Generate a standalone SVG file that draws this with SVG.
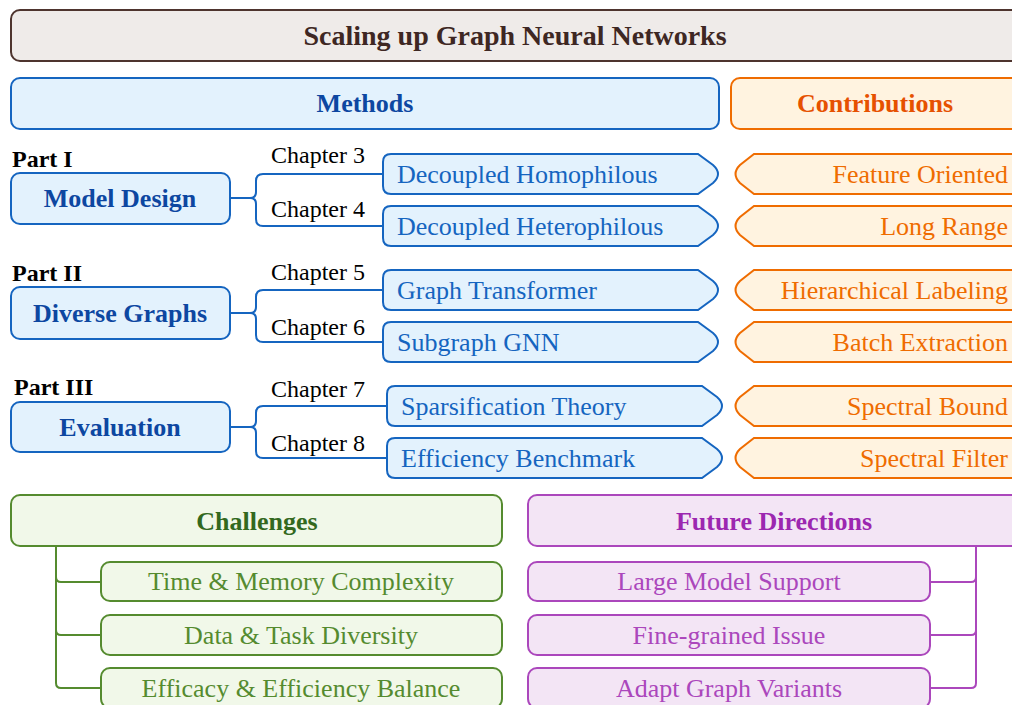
<svg xmlns="http://www.w3.org/2000/svg" width="1012" height="705" viewBox="0 0 1012 705">
  <style>
    text { font-family: "Liberation Serif", "Times New Roman", serif; }
    .hdr { font-size: 26px; font-weight: bold; text-anchor: middle; }
    .item { font-size: 26px; }
    .mid { text-anchor: middle; }
    .end { text-anchor: end; }
    .chap { font-size: 24px; fill: #000; }
    .part { font-size: 24px; font-weight: bold; fill: #000; }
    .box { stroke-width: 2; }
    .blue { fill: #e3f2fd; stroke: #1565c0; }
    .orange { fill: #fff3e0; stroke: #ef6c00; }
    .green { fill: #f1f8e9; stroke: #558b2f; }
    .purple { fill: #f3e5f5; stroke: #ab47bc; }
    .conn { fill: none; stroke-width: 2; }
  </style>

  <!-- root -->
  <g id="title">
    <rect class="box" x="11" y="10" width="1009" height="51" rx="9" fill="#efebe9" stroke="#4e342e"/>
    <text x="515" y="45" font-size="28" font-weight="bold" text-anchor="middle" fill="#3e2723">Scaling up Graph Neural Networks</text>
  </g>

  <!-- section headers -->
  <g id="methods">
    <rect class="box blue" x="11" y="78" width="708" height="51" rx="9"/>
    <text class="hdr" x="365" y="112" fill="#0d47a1">Methods</text>
  </g>
  <g id="contributions">
    <rect class="box orange" x="731" y="78" width="289" height="51" rx="9"/>
    <text class="hdr" x="875" y="112" fill="#e65100">Contributions</text>
  </g>

  <!-- parts -->
  <g id="part1">
    <text class="part" x="12" y="167">Part I</text>
    <rect class="box blue" x="11" y="173" width="219" height="51" rx="9"/>
    <text class="hdr" x="120" y="207" fill="#0d47a1">Model Design</text>
  </g>
  <g id="part2">
    <text class="part" x="12" y="281">Part II</text>
    <rect class="box blue" x="11" y="287" width="219" height="52" rx="9"/>
    <text class="hdr" x="120" y="322" fill="#0d47a1">Diverse Graphs</text>
  </g>
  <g id="part3">
    <text class="part" x="14" y="395">Part III</text>
    <rect class="box blue" x="11" y="402" width="219" height="50" rx="9"/>
    <text class="hdr" x="120" y="436" fill="#0d47a1">Evaluation</text>
  </g>

  <!-- method / contribution tags -->
  <defs>
    <!-- method tag: rounded left, blunt point on the right (336 x 40) -->
    <path id="mtag" d="M8,0 H315 L330,11 Q340,20 330,29 L315,40 H8 Q0,40 0,32 V8 Q0,0 8,0 Z"/>
    <!-- contribution tag: blunt point on the left, running off the right edge -->
    <path id="ctag" d="M18,0 H276 Q284,0 284,8 V32 Q284,40 276,40 H18 L4,29 Q-5,20 4,11 Z"/>
  </defs>

  <g id="ch3">
    <use href="#mtag" x="383" y="154" class="box blue"/>
    <text class="item" x="397" y="183" fill="#1565c0">Decoupled Homophilous</text>
  </g>
  <g id="ch4">
    <use href="#mtag" x="383" y="206" class="box blue"/>
    <text class="item" x="397" y="235" fill="#1565c0">Decoupled Heterophilous</text>
  </g>
  <g id="ch5">
    <use href="#mtag" x="383" y="270" class="box blue"/>
    <text class="item" x="397" y="299" fill="#1565c0">Graph Transformer</text>
  </g>
  <g id="ch6">
    <use href="#mtag" x="383" y="322" class="box blue"/>
    <text class="item" x="397" y="351" fill="#1565c0">Subgraph GNN</text>
  </g>
  <g id="ch7">
    <use href="#mtag" x="387" y="386" class="box blue"/>
    <text class="item" x="401" y="415" fill="#1565c0">Sparsification Theory</text>
  </g>
  <g id="ch8">
    <use href="#mtag" x="387" y="438" class="box blue"/>
    <text class="item" x="401" y="467" fill="#1565c0">Efficiency Benchmark</text>
  </g>

  <g id="c1">
    <use href="#ctag" x="736" y="154" class="box orange"/>
    <text class="item end" x="1008" y="183" fill="#ef6c00">Feature Oriented</text>
  </g>
  <g id="c2">
    <use href="#ctag" x="736" y="206" class="box orange"/>
    <text class="item end" x="1008" y="235" fill="#ef6c00">Long Range</text>
  </g>
  <g id="c3">
    <use href="#ctag" x="736" y="270" class="box orange"/>
    <text class="item end" x="1008" y="299" fill="#ef6c00">Hierarchical Labeling</text>
  </g>
  <g id="c4">
    <use href="#ctag" x="736" y="322" class="box orange"/>
    <text class="item end" x="1008" y="351" fill="#ef6c00">Batch Extraction</text>
  </g>
  <g id="c5">
    <use href="#ctag" x="736" y="386" class="box orange"/>
    <text class="item end" x="1008" y="415" fill="#ef6c00">Spectral Bound</text>
  </g>
  <g id="c6">
    <use href="#ctag" x="736" y="438" class="box orange"/>
    <text class="item end" x="1008" y="467" fill="#ef6c00">Spectral Filter</text>
  </g>

  <!-- chapter labels -->
  <g id="chapters">
    <text class="chap" x="271" y="163">Chapter 3</text>
    <text class="chap" x="271" y="217">Chapter 4</text>
    <text class="chap" x="271" y="280">Chapter 5</text>
    <text class="chap" x="271" y="335">Chapter 6</text>
    <text class="chap" x="271" y="397">Chapter 7</text>
    <text class="chap" x="271" y="451">Chapter 8</text>
  </g>

  <!-- challenges -->
  <g id="challenges">
    <rect class="box green" x="11" y="495" width="491" height="51" rx="9"/>
    <text class="hdr" x="257" y="530" fill="#33691e">Challenges</text>
  </g>
  <g id="ch-a">
    <rect class="box green" x="101" y="562" width="401" height="39" rx="9"/>
    <text class="item mid" x="301" y="590" fill="#558b2f">Time &amp; Memory Complexity</text>
  </g>
  <g id="ch-b">
    <rect class="box green" x="101" y="615" width="401" height="40" rx="9"/>
    <text class="item mid" x="301" y="644" fill="#558b2f">Data &amp; Task Diversity</text>
  </g>
  <g id="ch-c">
    <rect class="box green" x="101" y="668" width="401" height="40" rx="9"/>
    <text class="item mid" x="301" y="697" fill="#558b2f">Efficacy &amp; Efficiency Balance</text>
  </g>

  <!-- future directions -->
  <g id="future">
    <rect class="box purple" x="528" y="495" width="492" height="51" rx="9"/>
    <text class="hdr" x="774" y="530" fill="#9c27b0">Future Directions</text>
  </g>
  <g id="fd-a">
    <rect class="box purple" x="528" y="562" width="402" height="39" rx="9"/>
    <text class="item mid" x="729" y="590" fill="#ab47bc">Large Model Support</text>
  </g>
  <g id="fd-b">
    <rect class="box purple" x="528" y="615" width="402" height="40" rx="9"/>
    <text class="item mid" x="729" y="644" fill="#ab47bc">Fine-grained Issue</text>
  </g>
  <g id="fd-c">
    <rect class="box purple" x="528" y="668" width="402" height="40" rx="9"/>
    <text class="item mid" x="729" y="697" fill="#ab47bc">Adapt Graph Variants</text>
  </g>

  <!-- connectors -->
  <g id="connectors" class="conn">
    <g stroke="#1565c0">
      <path class="conn" d="M230,198 H250 Q256,198 256,192 V181 Q256,174 263,174 H383 M250,198 Q256,198 256,204 V219 Q256,226 263,226 H383"/>
      <path class="conn" d="M230,313 H250 Q256,313 256,307 V297 Q256,290 263,290 H383 M250,313 Q256,313 256,319 V335 Q256,342 263,342 H383"/>
      <path class="conn" d="M230,427 H250 Q256,427 256,421 V413 Q256,406 263,406 H387 M250,427 Q256,427 256,433 V451 Q256,458 263,458 H387"/>
    </g>
    <path class="conn" stroke="#558b2f" d="M56,546 V683 Q56,688 61,688 H101 M56,577 Q56,582 61,582 H101 M56,630 Q56,635 61,635 H101"/>
    <path class="conn" stroke="#ab47bc" d="M976,546 V683 Q976,688 971,688 H930 M976,577 Q976,582 971,582 H930 M976,630 Q976,635 971,635 H930"/>
  </g>
</svg>
